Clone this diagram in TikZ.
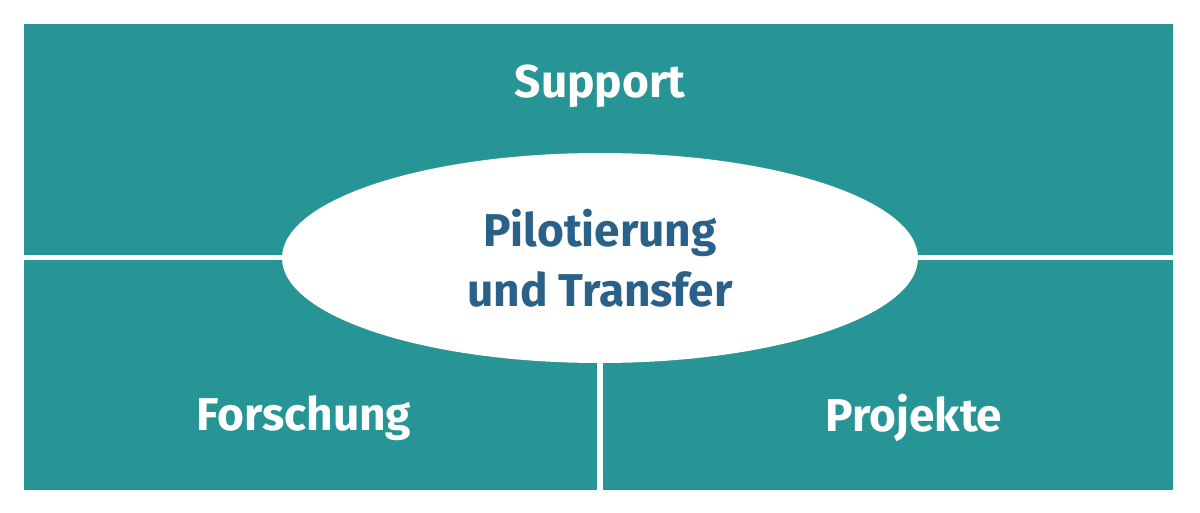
\documentclass[tikz,border=0pt]{standalone}
\usepackage{fontspec}
\setmainfont{Fira Sans}
\usetikzlibrary{shapes.geometric}
\definecolor{teal1}{HTML}{279595}
\definecolor{blue1}{HTML}{2A6188}
\tikzset{
  panel/.style={fill=teal1, draw=none, inner sep=0pt, anchor=north west},
  lab/.style={text=white, font=\fontsize{46}{52}\selectfont\bfseries},
}
\begin{document}
\begin{tikzpicture}[x=1pt,y=-1pt]
\useasboundingbox (0,0) rectangle (1200,513);
\node[panel, minimum width=1149pt, minimum height=231pt] (top) at (24,24) {};
\node[panel, minimum width=573pt, minimum height=230pt] (bl) at (24,260) {};
\node[panel, minimum width=570pt, minimum height=230pt] (br) at (603,260) {};
\node[ellipse, fill=white, minimum width=636pt, minimum height=210pt, inner sep=0pt] (el) at (600,258) {};
\node[lab] (ts) at (600,86) {Support};
\node[lab] (tf) at (304,418) {Forschung};
\node[lab] (tp) at (914,418) {Projekte};
\node[text=blue1, font=\fontsize{46}{60}\selectfont\bfseries, align=center] (tc) at (600,258) {Pilotierung\\und Transfer};
\end{tikzpicture}
\end{document}
